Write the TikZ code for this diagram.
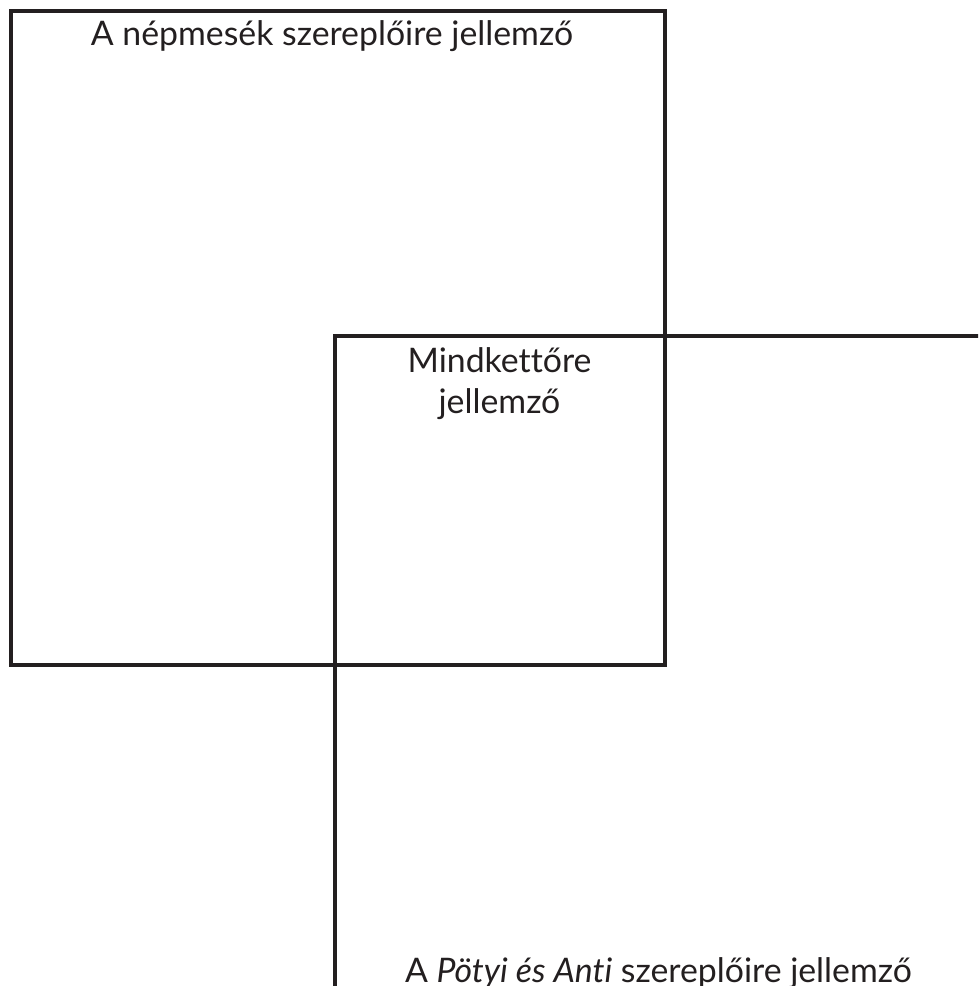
\documentclass[tikz,border=0pt]{standalone}
\usepackage{fontspec}
\setmainfont{Lato}[Ligatures={NoCommon}]
\definecolor{inkc}{HTML}{231F20}
\newlength\refwidth
\tikzset{
  frame/.style={draw=inkc, line width=4pt, line join=miter},
  lbl/.style={inner sep=0pt, outer sep=0pt, text=inkc, font=\lblfont},
}
\begin{document}
\settowidth\refwidth{\fontsize{10}{12}\selectfont A \textit{Pötyi és Anti} szereplőire jellemző}
\pgfmathsetmacro\lblsize{10*507/\refwidth}
\newcommand\lblfont{\fontsize{\lblsize}{40}\selectfont}
\begin{tikzpicture}[x=1pt,y=-1pt]
\useasboundingbox (0,0) rectangle (978,986);
\clip (0,0) rectangle (978,986);
% first square
\coordinate (a1) at (11,11);
\coordinate (a2) at (665,664.5);
\draw[frame] (a1) rectangle (a2);
% second square (cut off)
\coordinate (b0) at (334.5,1000);
\coordinate (b1) at (334.5,336);
\coordinate (b2) at (1000,336);
\draw[frame] (b0) -- (b1) -- (b2);
% labels
\node[lbl, anchor=base] (t1) at (332,45) {A népmesék szereplőire jellemző};
\node[lbl, anchor=base] (t2a) at (499.5,372.7) {Mindkettőre};
\node[lbl, anchor=base] (t2b) at (499.5,413) {jellemző};
\node[lbl, anchor=base west] (t3) at (405,982) {A \textit{Pötyi és Anti} szereplőire jellemző};
\end{tikzpicture}
\end{document}
